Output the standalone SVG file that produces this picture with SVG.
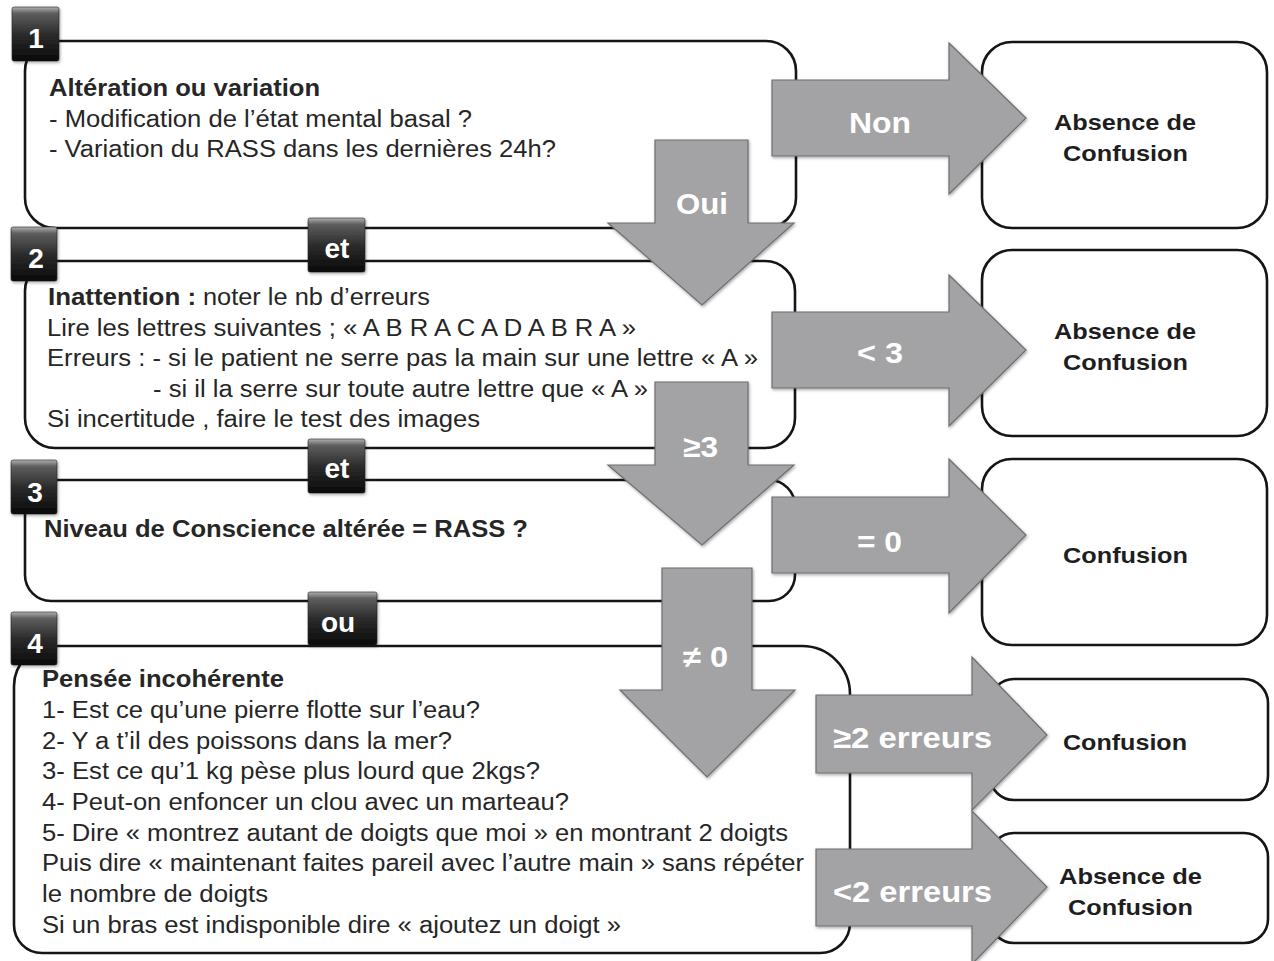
<svg xmlns="http://www.w3.org/2000/svg" width="1274" height="961" viewBox="0 0 1274 961">
<defs>
<linearGradient id="bg" x1="0" y1="0" x2="0" y2="1">
<stop offset="0" stop-color="#b0b0b0"/>
<stop offset="0.12" stop-color="#5e5e5e"/>
<stop offset="0.5" stop-color="#2c2c2c"/>
<stop offset="1" stop-color="#0a0a0a"/>
</linearGradient>
<filter id="sh" x="-10%" y="-10%" width="130%" height="130%">
<feDropShadow dx="1" dy="1.5" stdDeviation="1.5" flood-color="#000" flood-opacity="0.35"/>
</filter>
</defs>
<style>
.box{fill:#fff;stroke:#151515;stroke-width:2.6}
.badge{fill:url(#bg);stroke:#222;stroke-width:0.6;filter:url(#sh)}
.bt{font-family:"Liberation Sans",Arial,sans-serif;font-weight:bold;fill:#fff;font-size:28px;text-anchor:middle}
.arr{fill:#a3a3a5;stroke:#6e6e70;stroke-width:1.2;filter:url(#sh)}
.al{font-family:"Liberation Sans",Arial,sans-serif;font-weight:bold;fill:#fff;font-size:30px}
.t{font-family:"Liberation Sans",Arial,sans-serif;fill:#262626;font-size:23px}
.b{font-weight:bold}
.rt{font-family:"Liberation Sans",Arial,sans-serif;font-weight:bold;fill:#1e1e1e;font-size:22.5px}
</style>

<g id="node1">
<rect class="box" x="25" y="41" width="771" height="187" rx="30"/>
<text class="t b" x="49" y="96" textLength="271" lengthAdjust="spacingAndGlyphs">Altération ou variation</text>
<text class="t" x="49" y="127" textLength="423" lengthAdjust="spacingAndGlyphs">- Modification de l’état mental basal ?</text>
<text class="t" x="49" y="157" textLength="507" lengthAdjust="spacingAndGlyphs">- Variation du RASS dans les dernières 24h?</text>
</g>

<g id="node2">
<rect class="box" x="25" y="261" width="770" height="187" rx="30"/>
<text class="t b" x="48" y="305" textLength="148" lengthAdjust="spacingAndGlyphs">Inattention :</text>
<text class="t" x="203" y="305" textLength="227" lengthAdjust="spacingAndGlyphs">noter le nb d’erreurs</text>
<text class="t" x="47" y="336" textLength="589" lengthAdjust="spacingAndGlyphs">Lire les lettres suivantes ; « A B R A C A D A B R A »</text>
<text class="t" x="47" y="366" textLength="711" lengthAdjust="spacingAndGlyphs">Erreurs : - si le patient ne serre pas la main sur une lettre « A »</text>
<text class="t" x="153" y="397" textLength="495" lengthAdjust="spacingAndGlyphs">- si il la serre sur toute autre lettre que « A »</text>
<text class="t" x="47" y="427" textLength="433" lengthAdjust="spacingAndGlyphs">Si incertitude , faire le test des images</text>
</g>

<g id="node3">
<rect class="box" x="25" y="480" width="770" height="121" rx="26"/>
<text class="t b" x="44" y="537" textLength="484" lengthAdjust="spacingAndGlyphs">Niveau de Conscience altérée = RASS ?</text>
</g>

<g id="node4">
<path class="box" d="M54 646 H802 A48 48 0 0 1 850 694 V923 A30 30 0 0 1 820 953 H42 A28 28 0 0 1 14 925 V686 A40 40 0 0 1 54 646 Z"/>
<text class="t b" x="42" y="687" textLength="242" lengthAdjust="spacingAndGlyphs">Pensée incohérente</text>
<text class="t" x="42" y="718" textLength="438" lengthAdjust="spacingAndGlyphs">1- Est ce qu’une pierre flotte sur l’eau?</text>
<text class="t" x="42" y="749" textLength="410" lengthAdjust="spacingAndGlyphs">2- Y a t’il des poissons dans la mer?</text>
<text class="t" x="42" y="779" textLength="498" lengthAdjust="spacingAndGlyphs">3- Est ce qu’1 kg pèse plus lourd que 2kgs?</text>
<text class="t" x="42" y="810" textLength="527" lengthAdjust="spacingAndGlyphs">4- Peut-on enfoncer un clou avec un marteau?</text>
<text class="t" x="42" y="841" textLength="746" lengthAdjust="spacingAndGlyphs">5- Dire « montrez autant de doigts que moi » en montrant 2 doigts</text>
<text class="t" x="42" y="871" textLength="762" lengthAdjust="spacingAndGlyphs">Puis dire « maintenant faites pareil avec l’autre main » sans répéter</text>
<text class="t" x="42" y="902" textLength="226" lengthAdjust="spacingAndGlyphs">le nombre de doigts</text>
<text class="t" x="42" y="933" textLength="579" lengthAdjust="spacingAndGlyphs">Si un bras est indisponible dire « ajoutez un doigt »</text>
</g>

<g id="result1">
<rect class="box" x="982" y="42" width="285" height="186" rx="30"/>
<text class="rt" x="1054" y="130" textLength="142" lengthAdjust="spacingAndGlyphs">Absence de</text>
<text class="rt" x="1063" y="161" textLength="125" lengthAdjust="spacingAndGlyphs">Confusion</text>
</g>
<g id="result2">
<rect class="box" x="982" y="250" width="285" height="186" rx="30"/>
<text class="rt" x="1054" y="339" textLength="142" lengthAdjust="spacingAndGlyphs">Absence de</text>
<text class="rt" x="1063" y="370" textLength="125" lengthAdjust="spacingAndGlyphs">Confusion</text>
</g>
<g id="result3">
<rect class="box" x="982" y="459" width="285" height="186" rx="30"/>
<text class="rt" x="1063" y="563" textLength="125" lengthAdjust="spacingAndGlyphs">Confusion</text>
</g>
<g id="result4">
<rect class="box" x="990" y="679" width="278" height="121" rx="24"/>
<text class="rt" x="1063" y="750" textLength="124" lengthAdjust="spacingAndGlyphs">Confusion</text>
</g>
<g id="result5">
<rect class="box" x="990" y="833" width="278" height="110" rx="24"/>
<text class="rt" x="1059" y="884" textLength="143" lengthAdjust="spacingAndGlyphs">Absence de</text>
<text class="rt" x="1068" y="915" textLength="125" lengthAdjust="spacingAndGlyphs">Confusion</text>
</g>

<g id="badges">
<g id="badge1"><rect class="badge" x="12" y="7" width="47" height="54" rx="2"/><text class="bt" x="36" y="48">1</text></g>
<g id="badge2"><rect class="badge" x="11" y="227" width="46" height="54" rx="2"/><text class="bt" x="36" y="268">2</text></g>
<g id="badge3"><rect class="badge" x="11" y="460" width="46" height="54" rx="2"/><text class="bt" x="35" y="502">3</text></g>
<g id="badge4"><rect class="badge" x="11" y="612" width="46" height="53" rx="2"/><text class="bt" x="35" y="653">4</text></g>
<g id="et1"><rect class="badge" x="308" y="218" width="57" height="54" rx="2"/><text class="bt" x="337" y="258">et</text></g>
<g id="et2"><rect class="badge" x="308" y="439" width="57" height="54" rx="2"/><text class="bt" x="337" y="478">et</text></g>
<g id="ou"><rect class="badge" x="308" y="592" width="69" height="53" rx="2"/><text class="bt" x="338" y="632">ou</text></g>
</g>

<g id="connectors">
<polygon class="arr" points="772,80 949,80 949,43 1026,118 949,194 949,156 772,156"/>
<text class="al" x="849" y="133" textLength="62" lengthAdjust="spacingAndGlyphs">Non</text>
<polygon class="arr" points="655,140 748,140 748,223 794,223 702,305 608,223 655,223"/>
<text class="al" x="676" y="214" textLength="52" lengthAdjust="spacingAndGlyphs">Oui</text>
<polygon class="arr" points="772,312 949,312 949,275 1026,350 949,426 949,388 772,388"/>
<text class="al" x="857" y="363" textLength="46" lengthAdjust="spacingAndGlyphs">&lt; 3</text>
<polygon class="arr" points="655,382 748,382 748,465 794,465 702,545 608,465 655,465"/>
<text class="al" x="683" y="457" textLength="35" lengthAdjust="spacingAndGlyphs">≥3</text>
<polygon class="arr" points="772,497 949,497 949,459 1026,535 949,613 949,573 772,573"/>
<text class="al" x="857" y="552" textLength="45" lengthAdjust="spacingAndGlyphs">= 0</text>
<polygon class="arr" points="662,568 752,568 752,690 795,690 707,777 620,690 662,690"/>
<text class="al" x="683" y="667" textLength="45" lengthAdjust="spacingAndGlyphs">≠ 0</text>
<polygon class="arr" points="816,695 972,695 972,657 1047,735 972,810 972,773 816,773"/>
<text class="al" x="833" y="748" textLength="159" lengthAdjust="spacingAndGlyphs">≥2 erreurs</text>
<polygon class="arr" points="816,849 972,849 972,811 1047,887 972,964 972,926 816,926"/>
<text class="al" x="833" y="902" textLength="159" lengthAdjust="spacingAndGlyphs">&lt;2 erreurs</text>
</g>
</svg>
